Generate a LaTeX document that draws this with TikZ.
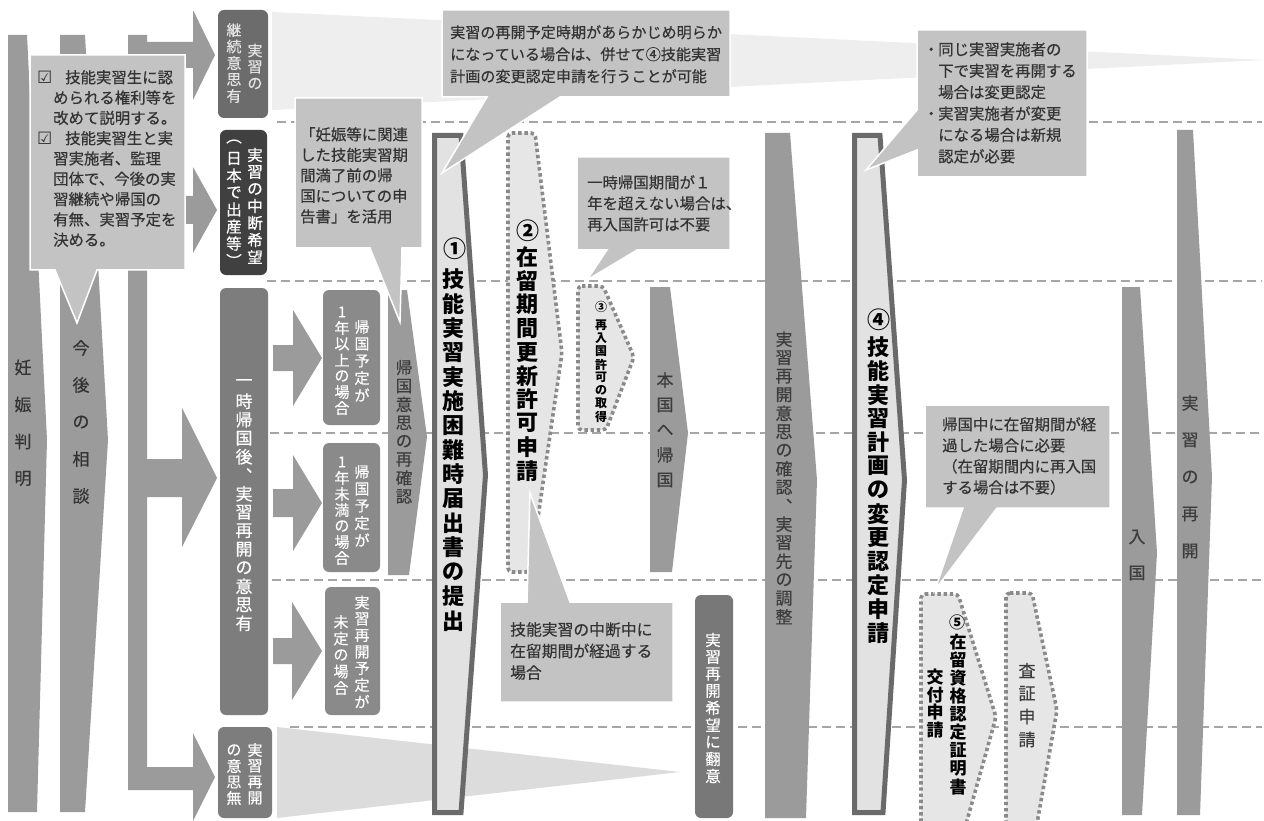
\documentclass[tikz,border=0pt]{standalone}
\usepackage{fontspec}
\setmainfont{Noto Sans CJK JP}
\newfontfamily\jpr{Noto Sans CJK JP}[FakeBold=0.4]
\newfontfamily\djv{DejaVu Sans}
\definecolor{arr}{HTML}{9B9B9B}
\definecolor{boxA}{HTML}{6C6C6C}
\definecolor{boxB}{HTML}{404040}
\definecolor{boxC}{HTML}{7D7D7D}
\definecolor{boxD}{HTML}{8A8A8A}
\definecolor{boxE}{HTML}{787878}
\definecolor{callc}{HTML}{C3C3C3}
\definecolor{fanA}{HTML}{EEEEEE}
\definecolor{fanB}{HTML}{DCDCDC}
\definecolor{lite}{HTML}{E2E2E2}
\definecolor{edgec}{HTML}{6A6A6A}
\definecolor{dotc}{HTML}{8A8A8A}
\definecolor{dotfill}{HTML}{E6E6E6}
\definecolor{dashc}{HTML}{A6A6A6}
\definecolor{txt}{HTML}{333333}
\definecolor{txtb}{HTML}{3C3C3C}
\definecolor{boxtxt}{HTML}{E4E4E4}
\newcommand\fsz[1]{\jpr\fontsize{#1}{#1}\selectfont}
\newcommand\fsb[1]{\normalfont\bfseries\fontsize{#1}{#1}\selectfont}
\newdimen\vtsp
\def\vtstop{VTSTOP}
\def\vtloop#1{\ifx\vtstop#1\else\hbox to 0pt{\hss\vbox to \vtsp{\vss\hbox{#1}\vss}\hss}\expandafter\vtloop\fi}
\newcommand\vtext[2]{\vbox{\offinterlineskip\vtsp=#1pt\relax\vtloop#2\vtstop}}
\tikzset{
  dashl/.style={draw=dashc, line width=2.4pt, dash pattern=on 9pt off 5pt},
  outl/.style={fill=lite, draw=edgec, line width=5pt, line join=miter},
  dotl/.style={fill=dotfill, draw=dotc, line width=3.6pt, dash pattern=on 3.4pt off 2.8pt, rounded corners=4pt},
  rbox/.style={rounded corners=6pt},
  call/.style={fill=callc, draw=white, line width=1.5pt, line join=miter},
  vt/.style={inner sep=0pt, text=txt},
  ct/.style={inner sep=0pt, text=txt, align=left, anchor=north west},
}
\begin{document}
\begin{tikzpicture}[x=1pt,y=-1pt]
\useasboundingbox (0,0) rectangle (1264,821);
\fill[white] (0,0) rectangle (1264,821);
% dashed row separators
\draw[dashl] (277,122) -- (1262,122);
\draw[dashl] (267,281) -- (1262,281);
\draw[dashl] (270,433) -- (1262,433);
\draw[dashl] (272,580) -- (1262,580);
\draw[dashl] (290,727) -- (1262,727);
% light fans
\fill[fanA] (272,12) -- (1264,60) -- (272,110) -- cycle;
\fill[fanB] (277,727) -- (680,772) -- (277,818) -- cycle;
% left columns
\fill[arr] (8,35) -- (27,35) -- (47,440) -- (37,812) -- (8,812) -- cycle;
\fill[arr] (60,35) -- (85,35) -- (108,440) -- (85,812) -- (60,812) -- cycle;
% branching bar
\fill[arr] (128,35) -- (147,35) -- (147,42) -- (193,42) -- (193,10) -- (215,55) -- (193,100) -- (193,68) -- (147,68)
  -- (147,196) -- (193,196) -- (193,167) -- (217,210) -- (193,253) -- (193,224) -- (147,224)
  -- (147,459) -- (182,459) -- (182,408) -- (217,478) -- (182,547) -- (182,497) -- (147,497)
  -- (147,767) -- (193,767) -- (193,733) -- (215,777) -- (193,821) -- (193,790) -- (128,790) -- cycle;
% small arrows
\fill[arr] (273,345) -- (293,345) -- (293,310) -- (322,358) -- (293,406) -- (293,371) -- (273,371) -- cycle;
\fill[arr] (273,489) -- (293,489) -- (293,455) -- (322,503) -- (293,551) -- (293,517) -- (273,517) -- cycle;
\fill[arr] (273,638) -- (292,638) -- (292,602) -- (322,651) -- (292,700) -- (292,664) -- (273,664) -- cycle;
% columns
\fill[arr] (388,290) -- (407,290) -- (427,437) -- (409,575) -- (388,575) -- cycle;
\draw[outl] (434.5,135.5) -- (461,135.5) -- (485.5,475) -- (461,812.5) -- (434.5,812.5) -- cycle;
\draw[dotl] (508,133) -- (535,133) -- (562,353) -- (530,572) -- (508,572) -- cycle;
\draw[dotl] (578,286) -- (603,286) -- (634,357) -- (606,430) -- (578,430) -- cycle;
\fill[arr] (650,287) -- (670,287) -- (688,433) -- (672,572) -- (650,572) -- cycle;
\fill[arr] (765,133) -- (790,133) -- (817,480) -- (806,818) -- (765,818) -- cycle;
\draw[outl] (854.5,135.5) -- (880,135.5) -- (904.5,480) -- (883,812.5) -- (854.5,812.5) -- cycle;
\draw[dotl] (921,594) -- (958,594) -- (996,717) -- (963,835) -- (921,835) -- cycle;
\draw[dotl] (1006,593) -- (1032,593) -- (1057,710) -- (1035,835) -- (1006,835) -- cycle;
\fill[arr] (1122,287) -- (1140,287) -- (1157,553) -- (1142,815) -- (1122,815) -- cycle;
\fill[arr] (1177,130) -- (1193,130) -- (1212,477) -- (1200,815) -- (1177,815) -- cycle;
% boxes
\fill[boxA, rbox] (218,10) rectangle (268,118);
\fill[boxB, rbox] (220,130) rectangle (267,275);
\fill[boxC, rbox] (220,288) rectangle (268,715);
\fill[boxD, rbox] (323,290) rectangle (380,425);
\fill[boxD, rbox] (323,443) rectangle (380,572);
\fill[boxD, rbox] (325,587) rectangle (380,715);
\fill[boxC, rbox] (218,727) rectangle (272,818);
\fill[boxE, rbox] (695,595) rectangle (733,818);
% callouts
\draw[call] (30,55) -- (185,55) -- (185,270) -- (97,270) -- (77,323) -- (55,270) -- (30,270) -- cycle;
\draw[call] (295,98) -- (422,98) -- (422,248) -- (402,248) -- (400,322) -- (370,248) -- (295,248) -- cycle;
\draw[call] (442,10) -- (730,10) -- (730,97) -- (560,97) -- (442,173) -- (487,97) -- (442,97) -- cycle;
\draw[call] (577,157) -- (730,157) -- (730,250) -- (637,250) -- (587,280) -- (607,250) -- (577,250) -- cycle;
\draw[call] (917,30) -- (1087,30) -- (1087,177) -- (917,177) -- (917,150) -- (866,170) -- (917,110) -- cycle;
\draw[call] (500,602) -- (527,602) -- (530,493) -- (570,602) -- (673,602) -- (673,702) -- (500,702) -- cycle;
\draw[call] (925,405) -- (1110,405) -- (1110,508) -- (997,508) -- (935,590) -- (963,508) -- (925,508) -- cycle;
% callout texts
\node[ct, font=\jpr\fontsize{15.4}{20.3}\selectfont] (c1) at (37,70) {%
\makebox[28pt][l]{\djv\fontsize{17}{17}\selectfont\char"2611}技能実習生に認\\
\hspace*{16pt}められる権利等を\\
\hspace*{16pt}改めて説明する。\\
\makebox[28pt][l]{\djv\fontsize{17}{17}\selectfont\char"2611}技能実習生と実\\
\hspace*{16pt}習実施者、監理\\
\hspace*{16pt}団体で、今後の実\\
\hspace*{16pt}習継続や帰国の\\
\hspace*{16pt}有無、実習予定を\\
\hspace*{16pt}決める。};
\node[ct, font=\jpr\fontsize{15.4}{20.5}\selectfont] (c2) at (300,127) {%
「妊娠等に関連\\
した技能実習期\\
間満了前の帰\\
国についての申\\
告書」を活用};
\node[ct, font=\jpr\fontsize{15.1}{22}\selectfont] (c3) at (450,25) {%
実習の再開予定時期があらかじめ明らか\\
になっている場合は、併せて④技能実習\\
計画の変更認定申請を行うことが可能};
\node[ct, font=\jpr\fontsize{15.4}{21}\selectfont] (c4) at (587,175) {%
一時帰国期間が１\\
年を超えない場合は、\\
再入国許可は不要};
\node[ct, font=\jpr\fontsize{15.4}{21.4}\selectfont] (c5) at (924,42) {%
\makebox[14pt][c]{・}同じ実習実施者の\\
\hspace*{14pt}下で実習を再開する\\
\hspace*{14pt}場合は変更認定\\
\makebox[14pt][c]{・}実習実施者が変更\\
\hspace*{14pt}になる場合は新規\\
\hspace*{14pt}認定が必要};
\node[ct, font=\jpr\fontsize{15.8}{21.5}\selectfont] (c6) at (510,622) {%
技能実習の中断中に\\
在留期間が経過する\\
場合};
\node[ct, font=\jpr\fontsize{15.4}{21}\selectfont] (c7) at (942,417) {%
帰国中に在留期間が経\\
過した場合に必要\\
（在留期間内に再入国\\
する場合は不要）};
% vertical texts
\node[vt, font=\fsz{17}] (t1) at (23,423) {\vtext{37}{妊娠判明}};
\node[vt, font=\fsz{17}] (t2) at (81,422) {\vtext{37}{今後の相談}};
\node[vt, text=boxtxt, font=\fsz{15}] (t3a) at (255,67) {\vtext{16.5}{実習の}};
\node[vt, text=boxtxt, font=\fsz{15}] (t3b) at (234,63) {\vtext{16.5}{継続意思有}};
\node[vt, text=white, font=\fsz{15.5}] (t4a) at (255,206) {\vtext{17}{実習の中断希望}};
\node[vt, text=white, font=\fsz{15.5}] (t4b) at (234,201) {\vtext{17}{︵日本で出産等︶}};
\node[vt, text=white, font=\fsz{17}] (t5) at (244,503) {\vtext{18.5}{一時帰国後︑実習再開の意思有}};
\node[vt, text=white, font=\fsz{15}] (t6a) at (362,361) {\vtext{17}{帰国予定が}};
\node[vt, text=white, font=\fsz{15}] (t6b) at (342,360) {\vtext{16}{1年以上の場合}};
\node[vt, text=white, font=\fsz{15}] (t7a) at (362,506) {\vtext{17}{帰国予定が}};
\node[vt, text=white, font=\fsz{15}] (t7b) at (342,510) {\vtext{16}{1年未満の場合}};
\node[vt, text=white, font=\fsz{15}] (t8a) at (362,652) {\vtext{16.5}{実習再開予定が}};
\node[vt, text=white, font=\fsz{15}] (t8b) at (341,655) {\vtext{16.5}{未定の場合}};
\node[vt, text=white, font=\fsz{15}] (t9a) at (255,774) {\vtext{16}{実習再開}};
\node[vt, text=white, font=\fsz{15}] (t9b) at (234,774) {\vtext{16}{の意思無}};
\node[vt, text=txtb, font=\fsz{16.5}] (t10) at (404,432) {\vtext{18.4}{帰国意思の再確認}};
\node[vt, text=black, font=\fsb{23}] (t11a) at (455,249) {①};
\node[vt, text=black, font=\fsb{22}] (t11b) at (453,450) {\vtext{24.4}{技能実習実施困難時届出書の提出}};
\node[vt, text=black, font=\fsb{23}] (t12a) at (528,231) {②};
\node[vt, text=black, font=\fsb{22}] (t12b) at (527,364) {\vtext{23.7}{在留期間更新許可申請}};
\node[vt, text=black, font=\fsb{12}] (t13a) at (601,307) {③};
\node[vt, text=black, font=\fsb{12}] (t13b) at (601,371) {\vtext{13.1}{再入国許可の取得}};
\node[vt, text=txtb, font=\fsz{17}] (t14) at (665,430) {\vtext{25}{本国へ帰国}};
\node[vt, text=white, font=\fsz{15.5}] (t15) at (713,708) {\vtext{17}{実習再開希望に翻意}};
\node[vt, text=txtb, font=\fsz{17}] (t16) at (784,478) {\vtext{18.5}{実習再開意思の確認︑実習先の調整}};
\node[vt, text=black, font=\fsb{23}] (t17a) at (879,320) {④};
\node[vt, text=black, font=\fsb{22}] (t17b) at (878,490) {\vtext{23.8}{技能実習計画の変更認定申請}};
\node[vt, text=black, font=\fsb{16}] (t18a) at (957,622) {⑤};
\node[vt, text=black, font=\fsb{17}] (t18b) at (958,714.5) {\vtext{18.1}{在留資格認定証明書}};
\node[vt, text=black, font=\fsb{17}] (t18c) at (935,703.5) {\vtext{17.7}{交付申請}};
\node[vt, text=txtb, font=\fsz{17}] (t19) at (1027,705) {\vtext{23}{査証申請}};
\node[vt, text=txtb, font=\fsz{17}] (t20) at (1137,555) {\vtext{36}{入国}};
\node[vt, text=txtb, font=\fsz{17}] (t21) at (1190,477) {\vtext{37}{実習の再開}};
\end{tikzpicture}
\end{document}
